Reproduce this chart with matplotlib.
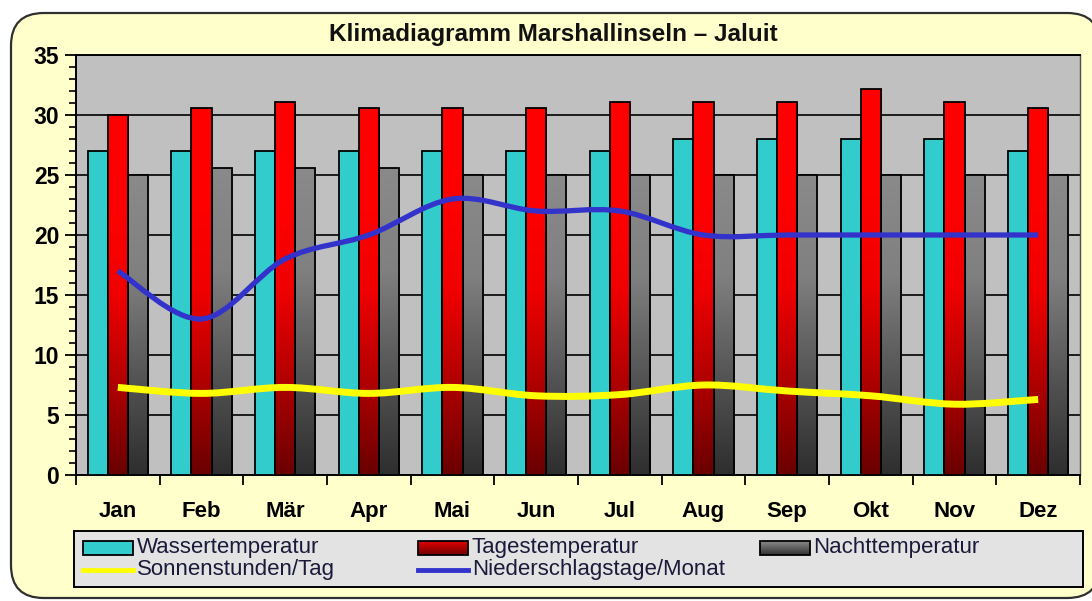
import numpy as np
import matplotlib
matplotlib.use("Agg")
import matplotlib.pyplot as plt
from matplotlib.patches import Rectangle, FancyBboxPatch, PathPatch
from matplotlib.path import Path
from matplotlib.colors import LinearSegmentedColormap
from matplotlib.lines import Line2D

months = ["Jan", "Feb", "Mär", "Apr", "Mai", "Jun", "Jul", "Aug", "Sep", "Okt", "Nov", "Dez"]
wasser = [27, 27, 27, 27, 27, 27, 27, 28, 28, 28, 28, 27]
tages = [30.0, 30.6, 31.1, 30.6, 30.6, 30.6, 31.1, 31.1, 31.1, 32.2, 31.1, 30.6]
nacht = [25.0, 25.6, 25.6, 25.6, 25.0, 25.0, 25.0, 25.0, 25.0, 25.0, 25.0, 25.0]
sonne = [7.3, 6.8, 7.3, 6.8, 7.3, 6.6, 6.7, 7.5, 7.0, 6.6, 5.9, 6.3]
regen = [17, 13, 18, 20, 23, 22, 22, 20, 20, 20, 20, 20]

title = "Klimadiagramm Marshallinseln – Jaluit"
labels = ["Wassertemperatur", "Tagestemperatur", "Nachttemperatur",
          "Sonnenstunden/Tag", "Niederschlagstage/Monat"]

FONT = ["Liberation Sans", "DejaVu Sans"]

W, H = 1092, 601
fig = plt.figure(figsize=(W / 100, H / 100), dpi=100)
fig.patch.set_facecolor("white")


def px(xp, yp):
    return xp / W, (H - yp) / H


# yellow rounded frame
frame = FancyBboxPatch((11 / W, 3 / H), (1100 - 11) / W, (588 - 3) / H,
                       boxstyle="round,pad=0,rounding_size=0.03",
                       transform=fig.transFigure, facecolor="#FFFFCC",
                       edgecolor="#303030", linewidth=1.6, zorder=-5,
                       mutation_aspect=W / H)
fig.patches.append(frame)

ax = fig.add_axes([76 / W, (H - 475) / H, (1080 - 76) / W, (475 - 55) / H])
ax.set_zorder(2)
ax.set_facecolor("#C0C0C0")

x = np.arange(len(months))
bw = 0.24

red_cmap = LinearSegmentedColormap.from_list("r", ["#6A0000", "#B00000", "#F00000", "#FF0000", "#FF0000"])
gray_cmap = LinearSegmentedColormap.from_list("g", ["#2E2E2E", "#555555", "#808080", "#8A8A8A"])


def gradient_bar(ax, xc, h, cmap, z):
    rect = Rectangle((xc - bw / 2, 0), bw, h, facecolor="none", edgecolor="black",
                     linewidth=1.3, zorder=z + 0.5)
    ax.add_patch(rect)
    grad = np.linspace(0, 1, 256).reshape(-1, 1)
    im = ax.imshow(grad, cmap=cmap, origin="lower", aspect="auto",
                   extent=(xc - bw / 2, xc + bw / 2, 0, h), zorder=z,
                   interpolation="bilinear")
    im.set_clip_path(rect)


for i in x:
    ax.add_patch(Rectangle((i - bw - bw / 2, 0), bw, wasser[i], facecolor="#33CCCC",
                           edgecolor="black", linewidth=1.3, zorder=3))
    gradient_bar(ax, i, tages[i], red_cmap, 3)
    gradient_bar(ax, i + bw, nacht[i], gray_cmap, 3)

ax.set_xlim(-0.5, 11.5)
ax.set_ylim(0, 35)


def smooth_path(xs, ys):
    xs = np.asarray(xs, float)
    ys = np.asarray(ys, float)
    n = len(xs)
    verts = [(xs[0], ys[0])]
    codes = [Path.MOVETO]
    for i in range(n - 1):
        p0 = np.array([xs[max(i - 1, 0)], ys[max(i - 1, 0)]])
        p1 = np.array([xs[i], ys[i]])
        p2 = np.array([xs[i + 1], ys[i + 1]])
        p3 = np.array([xs[min(i + 2, n - 1)], ys[min(i + 2, n - 1)]])
        c1 = p1 + (p2 - p0) / 6
        c2 = p2 - (p3 - p1) / 6
        verts += [tuple(c1), tuple(c2), tuple(p2)]
        codes += [Path.CURVE4] * 3
    return Path(verts, codes)


ax.add_patch(PathPatch(smooth_path(x, sonne), facecolor="none", edgecolor="#FFFF00",
                       linewidth=5, zorder=6, capstyle="butt"))
ax.add_patch(PathPatch(smooth_path(x, regen), facecolor="none", edgecolor="#3333CC",
                       linewidth=3.8, zorder=6, capstyle="butt"))

# grid and ticks
ax.set_yticks(np.arange(0, 36, 5))
ax.set_yticks(np.arange(0, 36, 1), minor=True)
ax.yaxis.grid(True, which="major", color="black", linewidth=1.2)
ax.set_axisbelow(True)
ax.set_xticks(np.arange(-0.5, 12, 1))
ax.set_xticklabels([])
ax.set_xticks(x, minor=True)
ax.set_xticklabels(months, minor=True, fontsize=16, fontweight="bold", family=FONT)
ax.tick_params(axis="x", which="major", length=7, width=1.3, direction="out", color="black")
ax.tick_params(axis="x", which="minor", length=0, pad=19)
ax.tick_params(axis="y", which="major", length=8, width=1.3, direction="out", pad=4)
ax.tick_params(axis="y", which="minor", length=5, width=1.2, direction="out")
for lab in ax.get_yticklabels():
    lab.set_fontsize(16.5)
    lab.set_fontweight("bold")
    lab.set_family(FONT)
for s in ["left", "bottom", "top"]:
    ax.spines[s].set_color("black")
    ax.spines[s].set_linewidth(1.4)
ax.spines["right"].set_color("#505050")
ax.spines["right"].set_linewidth(1.0)

fig.text(553 / W, (H - 34) / H, title, ha="center", va="center", fontsize=17.5,
         fontweight="bold", family=FONT, color="#111111")

# manual legend
tf = fig.transFigure
x0, y0 = px(74, 587)
x1, y1 = px(1083, 531)
fig.patches.append(Rectangle((x0, y0), x1 - x0, y1 - y0, transform=tf,
                             facecolor="#E3E3E3", edgecolor="black", linewidth=1.4, zorder=1))


def leg_patch(xl, yc, color=None, cmap=None):
    xa, ya = px(xl, yc + 7)
    xb, yb = px(xl + 50, yc - 7)
    if cmap is not None:
        nsl = 14
        hh = (yb - ya) / nsl
        for k in range(nsl):
            fig.patches.append(Rectangle((xa, ya + k * hh), xb - xa, hh, transform=tf,
                                         facecolor=cmap((k + 0.5) / nsl), edgecolor="none",
                                         zorder=2))
        fig.patches.append(Rectangle((xa, ya), xb - xa, yb - ya, transform=tf,
                                     facecolor="none", edgecolor="black", linewidth=1.3,
                                     zorder=3))
    else:
        fig.patches.append(Rectangle((xa, ya), xb - xa, yb - ya, transform=tf,
                                     facecolor=color, edgecolor="black", linewidth=1.3,
                                     zorder=3))


def leg_line(xl, yc, color):
    xa, ya = px(xl, yc)
    xb, _ = px(xl + 50, yc)
    fig.lines.append(Line2D([xa, xb], [ya, ya], transform=tf, color=color,
                            linewidth=3.5, zorder=3))


def leg_text(xl, yc, s):
    xa, ya = px(xl, yc)
    fig.text(xa, ya, s, ha="left", va="center", fontsize=16, family=FONT,
             color="#1a1a3a", zorder=4)


red_leg = LinearSegmentedColormap.from_list("rl", ["#6E0000", "#E00000"])
gray_leg = LinearSegmentedColormap.from_list("gl", ["#303030", "#8A8A8A"])

r1, r2 = 548, 570
leg_patch(83, r1, color="#33CCCC")
leg_text(137, r1 - 1, labels[0])
leg_patch(418, r1, cmap=red_leg)
leg_text(472, r1 - 1, labels[1])
leg_patch(760, r1, cmap=gray_leg)
leg_text(813, r1 - 1, labels[2])
leg_line(83, r2, "#FFFF00")
leg_text(137, r2, labels[3])
leg_line(418, r2, "#3333CC")
leg_text(472, r2, labels[4])

fig.savefig("out.png", dpi=100, facecolor="white")
